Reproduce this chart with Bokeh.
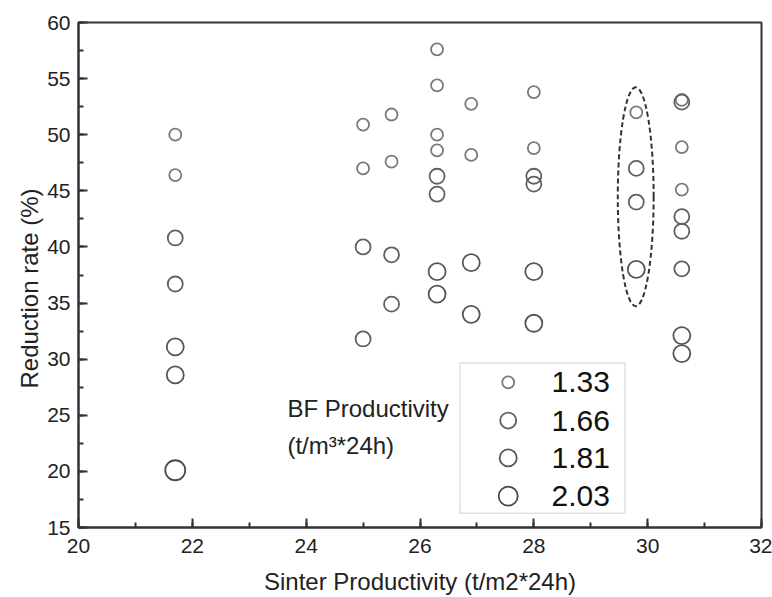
from bokeh.plotting import figure
from bokeh.models import Range1d, SingleIntervalTicker, BoxAnnotation, Title
from bokeh.core.properties import value
from bokeh.embed import file_html
from bokeh.resources import INLINE

# ---- data ----
bf_levels = ["1.33", "1.66", "1.81", "2.03"]

x_133 = [21.7, 21.7, 25.0, 25.0, 25.5, 25.5, 26.3, 26.3, 26.3, 26.3, 26.9, 26.9, 28.0, 28.0, 29.8, 30.6, 30.6, 30.6]
y_133 = [50.0, 46.4, 50.9, 47.0, 51.8, 47.6, 57.6, 54.4, 50.0, 48.6, 52.75, 48.2, 53.8, 48.8, 52.0, 53.1, 48.9, 45.1]

x_166 = [21.7, 21.7, 25.0, 25.0, 25.5, 25.5, 26.3, 26.3, 28.0, 28.0, 29.8, 29.8, 30.6, 30.6, 30.6, 30.6]
y_166 = [40.8, 36.7, 40.0, 31.8, 39.3, 34.9, 46.3, 44.7, 46.3, 45.6, 47.0, 44.0, 52.9, 42.7, 41.4, 38.05]

x_181 = [21.7, 21.7, 26.3, 26.3, 26.9, 26.9, 28.0, 28.0, 29.8, 30.6, 30.6]
y_181 = [31.1, 28.6, 37.8, 35.8, 38.6, 34.0, 37.8, 33.2, 38.0, 32.1, 30.5]

x_203 = [21.7]
y_203 = [20.1]

FONT = "Liberation Sans"

p = figure(width=772, height=597, x_range=Range1d(20, 32), y_range=Range1d(15, 60),
           output_backend="svg", toolbar_location=None,
           min_border_left=78, min_border_right=11, min_border_top=22, min_border_bottom=68,
           background_fill_color="white", border_fill_color="white")
p.grid.visible = False
p.outline_line_color = "#333333"
p.outline_line_width = 2

p.xaxis.ticker = SingleIntervalTicker(interval=2, num_minor_ticks=2)
p.yaxis.ticker = SingleIntervalTicker(interval=5, num_minor_ticks=2)
for ax in (p.xaxis[0], p.yaxis[0]):
    ax.axis_line_color = "#333333"
    ax.axis_line_width = 2
    ax.major_tick_in = 9
    ax.major_tick_out = 0
    ax.minor_tick_in = 5
    ax.minor_tick_out = 0
    ax.major_tick_line_color = "#333333"
    ax.minor_tick_line_color = "#333333"
    ax.major_tick_line_width = 2
    ax.minor_tick_line_width = 2
    ax.major_label_text_font = FONT
    ax.major_label_text_font_size = "21px"
    ax.major_label_text_color = "#222222"
    ax.axis_label_text_font = FONT
    ax.axis_label_text_font_size = "24px"
    ax.axis_label_text_font_style = "normal"
    ax.axis_label_text_color = "#222222"
p.xaxis.axis_label = "Sinter Productivity (t/m2*24h)"
p.xaxis.major_label_standoff = 11
p.yaxis.major_label_standoff = 8
p.xaxis.axis_label_standoff = 12

ytitle = Title(text="Reduction rate (%)", align="left", offset=139, standoff=4,
               text_font=FONT, text_font_size="24px", text_font_style="normal",
               text_color="#222222")
p.add_layout(ytitle, "left")

groups = [
    (x_133, y_133, 12, "#7a7a7a"),
    (x_166, y_166, 15, "#606060"),
    (x_181, y_181, 17, "#555555"),
    (x_203, y_203, 20, "#4a4a4a"),
]
for xs, ys, sz, col in groups:
    p.scatter(xs, ys, size=sz, marker="circle", fill_color=None, line_color=col, line_width=1.8)

# dashed ellipse around the 29.8 column
p.ellipse(x=[29.79], y=[44.47], width=[0.63], height=[19.5], fill_color=None,
          line_color="#333333", line_width=2, line_dash="5 3")

# annotation text
p.text(x=[23.67, 23.67], y=[25.57, 22.3], text=["BF Productivity", "(t/m\u00b3*24h)"],
       text_font=value(FONT), text_font_size="24px", text_color="#222222",
       text_baseline="middle", text_align="left")

# manual legend
p.add_layout(BoxAnnotation(left=26.70, right=29.60, bottom=16.26, top=29.65,
                           fill_color=None, fill_alpha=0, line_color="#999999", line_width=1.5))
leg_y = [27.94, 24.53, 21.2, 17.79]
leg_sizes = [12, 16, 17, 19]
leg_cols = ["#7a7a7a", "#606060", "#555555", "#4a4a4a"]
for yy, sz, col in zip(leg_y, leg_sizes, leg_cols):
    p.scatter([27.55], [yy], size=sz, marker="circle", fill_color=None, line_color=col, line_width=1.8)
p.text(x=[28.31] * 4, y=leg_y, text=bf_levels, text_font=value(FONT), text_font_size="30px",
       text_color="#111111", text_baseline="middle", text_align="left")

open("out.html", "w").write(file_html(p, INLINE))
